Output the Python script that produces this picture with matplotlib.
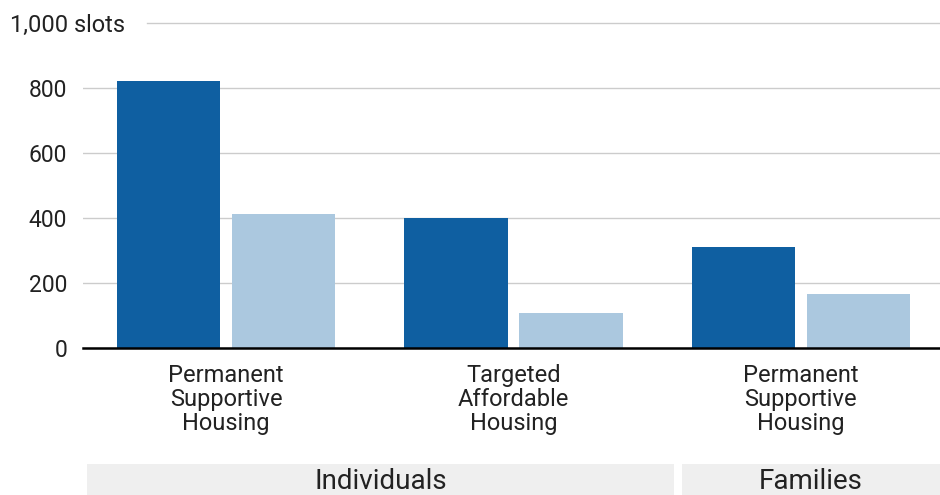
import matplotlib
matplotlib.use("Agg")
import matplotlib.pyplot as plt
from matplotlib.patches import Rectangle

# ---- data ----
categories = ["Permanent\nSupportive\nHousing", "Targeted\nAffordable\nHousing", "Permanent\nSupportive\nHousing"]
series_dark = [820, 400, 310]
series_light = [413, 109, 166]
y_ticks = [0, 200, 400, 600, 800]
y_top_label = "1,000 slots"
groups = ["Individuals", "Families"]

# ---- style ----
plt.rcParams['font.family'] = ['Roboto', 'DejaVu Sans']
DARK = "#0f5fa1"
LIGHT = "#abc8df"
GRID = "#cccccc"
TXT = "#222222"
BOX = "#efefef"

W, H = 940, 495
fig = plt.figure(figsize=(W / 100, H / 100), dpi=100)

def fx(px):
    return px / W

def fy(py):
    return 1 - py / H

ax_left, ax_right, ax_bottom, ax_top = 83, 940, 348.3, 22.6
ax = fig.add_axes([fx(ax_left), fy(ax_bottom), fx(ax_right - ax_left), fy(ax_top) - fy(ax_bottom)])

x = list(range(len(categories)))
width = 0.36
off = 0.2
ax.bar([i - off for i in x], series_dark, width=width, color=DARK, zorder=2)
ax.bar([i + off for i in x], series_light, width=width, color=LIGHT, zorder=2)

ax.set_xlim(-0.4984, 2.4845)
ax.set_ylim(0, 1000)

ax.set_yticks(y_ticks)
ax.set_yticklabels([f"{v:,}" for v in y_ticks], fontsize=16.5, color=TXT)
ax.tick_params(axis='y', length=0, pad=11.5)
ax.yaxis.grid(True, color=GRID, linewidth=1.0, zorder=0)
ax.set_axisbelow(True)
ax.axhline(1000, xmin=(146.7 - ax_left) / (ax_right - ax_left), xmax=1, color=GRID, linewidth=1.0, zorder=0, clip_on=False)
fig.text(fx(10), fy(32.3), y_top_label, fontsize=17, color=TXT, ha='left', va='baseline')

ax.set_xticks(x)
ax.set_xticklabels(categories, fontsize=17, color=TXT, linespacing=1.08)
ax.tick_params(axis='x', length=0, pad=11)

for s in ['top', 'right', 'left']:
    ax.spines[s].set_visible(False)
ax.spines['bottom'].set_color('black')
ax.spines['bottom'].set_linewidth(1.8)
ax.spines['bottom'].set_zorder(3)

# group boxes
box_spans = [(86.7, 674), (681.7, 940)]
box_top, box_bot = 464, 495
for name, (l, r) in zip(groups, box_spans):
    fig.patches.append(Rectangle((fx(l), fy(box_bot)), fx(r - l), fy(box_top) - fy(box_bot),
                                 transform=fig.transFigure, facecolor=BOX, edgecolor='none'))
    fig.text(fx((l + r) / 2), fy(488.7), name, fontsize=20, color=TXT, ha='center', va='baseline')

fig.savefig("out.png", dpi=100)
